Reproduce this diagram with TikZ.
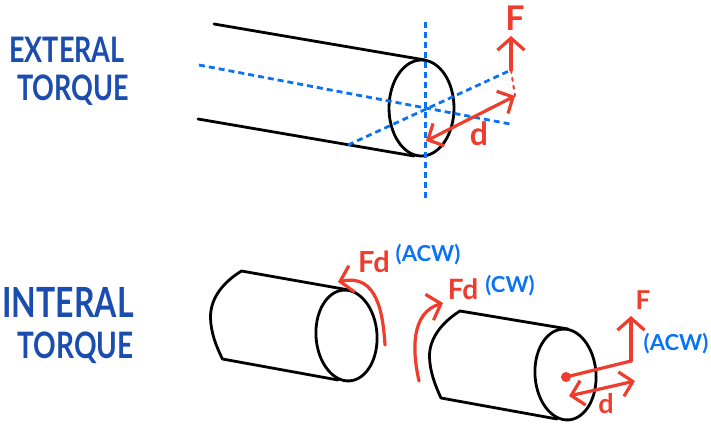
\documentclass[tikz,border=0pt]{standalone}
\usepackage{fontspec}
\setmainfont{Lato}
\usetikzlibrary{arrows.meta,shapes.geometric}
\definecolor{torqueblue}{HTML}{1B4DB1}
\definecolor{axisblue}{HTML}{0A72F5}
\definecolor{forcered}{HTML}{F03C2C}

\begin{document}
\begin{tikzpicture}[x=1pt, y=-1pt, line cap=round, line join=round,
    body/.style={draw=black, line width=2.8pt},
    face/.style={ellipse, draw=black, line width=2.8pt, inner sep=0pt, minimum width=#1},
    axis/.style={draw=axisblue, line width=2.8pt, dash pattern=on 6pt off 4pt, line cap=butt},
    force/.style={draw=forcered, line width=3.2pt, -{Straight Barb[length=12pt,width=27pt,line width=3.2pt]}},
    span/.style={draw=forcered, line width=3.2pt, {Straight Barb[length=12pt,width=25pt,line width=3.2pt]}-{Straight Barb[length=12pt,width=25pt,line width=3.2pt]}},
    title/.style={text=torqueblue, font=\fontsize{#1}{30}\selectfont\bfseries, inner sep=0pt, yscale=1.3, transform shape},
    redtext/.style={text=forcered, font=\fontsize{#1}{#1}\selectfont\bfseries, inner sep=0pt},
    bluetext/.style={text=axisblue, font=\fontsize{22}{24}\selectfont\bfseries, inner sep=0pt}]
    \useasboundingbox (0,0) rectangle (711,425);
    \fill[white] (0,0) rectangle (711,425);
    % labels on the left
    \node[title=27] (extname) at (67,50) {EXTERAL};
    \node[title=27] (exttorque) at (73,90) {TORQUE};
    \node[title=32] (intname) at (68,302) {INTERAL};
    \node[title=28] (inttorque) at (75.5,348) {TORQUE};

    % upper cylinder
    \node[face=65pt, minimum height=96pt] (endcap) at (421.5,108) {};
    \coordinate (captop) at (425,60);
    \coordinate (capbot) at (414,156);
    \coordinate (reartop) at (214,24);
    \coordinate (rearbot) at (198,119);
    \draw[body] (reartop) -- (captop);
    \draw[body] (rearbot) -- (capbot);
    \coordinate (vtop) at (425.5,22);
    \coordinate (vbot) at (425.5,201);
    \coordinate (ax1a) at (199,65);
    \coordinate (ax1b) at (510,124);
    \coordinate (ax2a) at (348,145);
    \coordinate (ax2b) at (511,70);
    \draw[axis] (vtop) -- (vbot);
    \draw[axis] (ax1a) -- (ax1b);
    \draw[axis] (ax2a) -- (ax2b);
    \coordinate (ftip) at (511,36);
    \coordinate (dright) at (515,96);
    \coordinate (dleft) at (426,141);
    \draw[force] (ax2b) -- (ftip);
    \draw[draw=forcered, line width=2pt, dash pattern=on 3pt off 5pt] (ax2b) -- (dright);
    \draw[span] (dleft) -- (dright);
    \node[redtext=34] (fone) at (515,18) {F};
    \node[redtext=32] (done) at (479,134) {d};

    % lower left cylinder
    \node[face=61pt, minimum height=91pt, rotate=4] (leftcap) at (346.5,335.5) {};
    \coordinate (lefttop) at (241.5,271);
    \coordinate (leftcaptop) at (349,290);
    \coordinate (leftbot) at (222.5,359);
    \coordinate (leftcapbot) at (338,380);
    \draw[body] (leftcaptop) -- (lefttop) .. controls (225,281) and (210,297) .. (210.5,318) .. controls (211,333) and (216,346) .. (leftbot) -- (leftcapbot);
    \coordinate (arcleftstart) at (385,345);
    \coordinate (arclefttip) at (338,282);
    \draw[force] (arcleftstart) .. controls (383,315) and (378,273) .. (arclefttip);
    \node[redtext=29] (fdleft) at (374,262) {Fd};
    \node[bluetext] (acwleft) at (428,255) {(ACW)};

    % lower right cylinder
    \node[face=61pt, minimum height=91pt, rotate=4] (rightcap) at (565.5,374.5) {};
    \coordinate (righttop) at (460,311);
    \coordinate (rightcaptop) at (568,329);
    \coordinate (rightbot) at (441,398);
    \coordinate (rightcapbot) at (557,419);
    \draw[body] (rightcaptop) -- (righttop) .. controls (444,321) and (429,337) .. (429.5,357) .. controls (430,372) and (435,385) .. (rightbot) -- (rightcapbot);
    \coordinate (arcrightstart) at (419,381);
    \coordinate (arcrighttip) at (443,303);
    \draw[force] (arcrightstart) .. controls (412,350) and (411,313) .. (arcrighttip);
    \node[redtext=28] (fdright) at (463,289) {Fd};
    \node[bluetext] (cwright) at (510,286) {(CW)};

    % arm and force on the right end
    \node[circle, fill=forcered, inner sep=0pt, minimum size=10pt] (pivot) at (566,377) {};
    \coordinate (elbow) at (631,361);
    \coordinate (ftwo) at (631,316);
    \draw[draw=forcered, line width=3.2pt] (pivot.center) -- (elbow);
    \draw[force] (elbow) -- (ftwo);
    \coordinate (dtwoleft) at (569,396);
    \coordinate (dtworight) at (635,381);
    \draw[span] (dtwoleft) -- (dtworight);
    \node[redtext=26] (forcelabel) at (643,300) {F};
    \node[redtext=27] (dtwo) at (606,404) {d};
    \node[bluetext] (acwright) at (676,344) {(ACW)};
\end{tikzpicture}
\end{document}
